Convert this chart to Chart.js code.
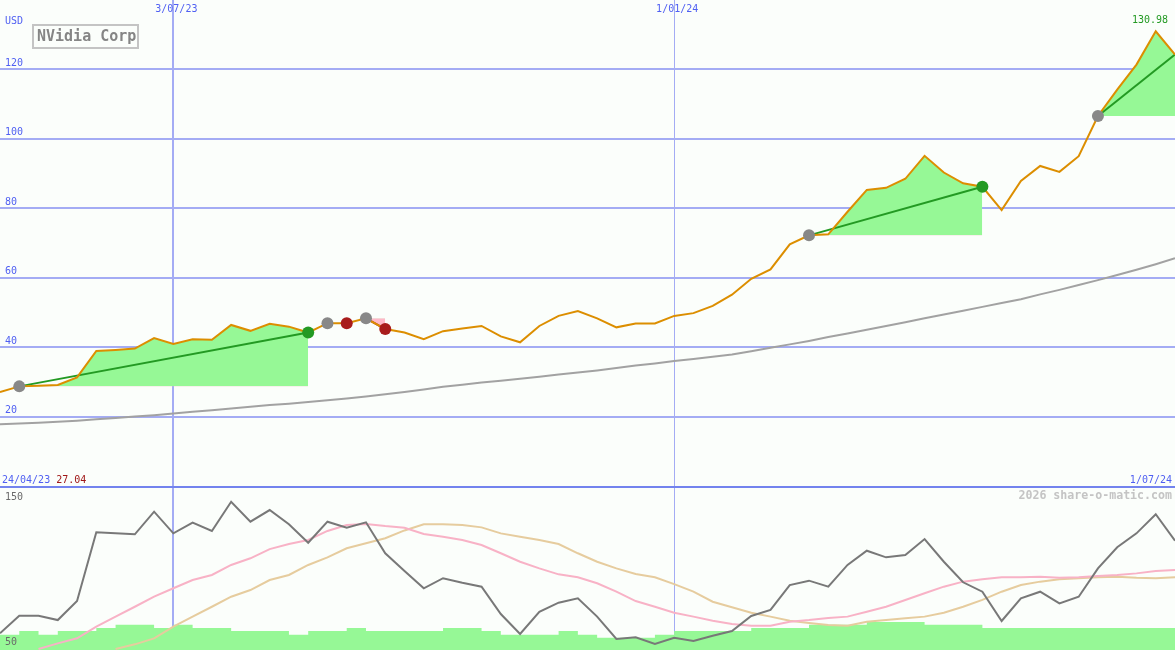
<!DOCTYPE html>
<html><head><meta charset="utf-8">
<script src="https://cdn.jsdelivr.net/npm/chart.js@4.4.1/dist/chart.umd.min.js"></script>
<style>
html,body{margin:0;padding:0;background:#fbfefb;}
#wrap{position:relative;width:1175px;height:650px;overflow:hidden;background:#fbfefb;}
#top{position:absolute;left:0;top:0;}
#sep{position:absolute;left:0;top:486px;width:1175px;height:2px;background:#7383ee;}
#bot{position:absolute;left:0;top:488px;}
</style></head><body>
<div id="wrap"><canvas id="top" width="1175" height="486"></canvas><div id="sep"></div><canvas id="bot" width="1175" height="162"></canvas></div>
<script>
// ---- data (weekly points, index 0 .. 61) ----
const company = 'NVidia Corp';
const currency = 'USD';
const startDate = '24/04/23';
const endDate = '1/07/24';
const watermark = '2026 share-o-matic.com';
const dateTickIdx = [9, 35];
const dateTickLabels = ['3/07/23', '1/01/24'];
const priceTicks = [20, 40, 60, 80, 100, 120];
const lowerTicks = [150, 50];

const price = [27.04,28.7,28.9,29.1,31.3,38.9,39.2,39.6,42.6,40.9,
42.3,42.1,46.4,44.7,46.7,45.9,44.2,46.9,46.9,48.3,
45.2,44.2,42.3,44.6,45.4,46.1,43.1,41.4,46.1,49.0,
50.4,48.3,45.7,46.8,46.8,49.0,49.8,51.9,55.1,59.7,
62.4,69.6,72.2,72.5,79.0,85.3,85.9,88.5,95.1,90.3,
87.2,86.2,79.5,87.9,92.2,90.5,95.0,106.6,114.2,121.4,
130.98,124.3];

const longMA = [17.8,18.0,18.2,18.5,18.8,19.2,19.6,20.0,20.4,20.9,
21.4,21.8,22.3,22.8,23.3,23.7,24.2,24.7,25.2,25.8,
26.4,27.1,27.8,28.6,29.2,29.8,30.3,30.9,31.5,32.1,
32.7,33.3,34.0,34.7,35.3,36.0,36.6,37.2,37.9,38.8,
39.8,40.8,41.8,42.9,43.9,45.0,46.1,47.2,48.3,49.4,
50.5,51.6,52.7,53.8,55.2,56.5,57.9,59.3,60.8,62.3,
63.9,65.6];

const regionStart = [1, 19, 42, 57];
const regionEnd = [16, 20, 51, 61];
const markerIdx = [1, 16, 17, 18, 19, 20, 42, 51, 57];
const markerKind = ['gray','green','gray','red','gray','red','gray','green','gray'];

const oscillator = [60.3,71.2,71.2,68.5,80.2,122.7,122.0,121.4,135.4,122.0,
128.6,123.5,141.5,129.2,136.4,127.6,116.2,129.2,125.5,128.8,
109.7,98.8,88.1,94.3,91.5,89.1,72.2,59.9,73.6,79.2,
81.9,70.6,56.8,57.8,53.7,57.6,55.6,58.8,61.7,71.0,
74.7,90.1,92.8,89.1,102.5,111.3,107.2,108.6,118.5,104.5,
91.8,86.0,67.9,81.9,86.0,78.8,82.9,100.4,113.4,122.0,
133.8,117.5];

const oscFast = [null,null,50.6,54.1,57.2,64.4,70.6,76.7,82.9,88.1,
93.2,96.3,102.5,106.6,112.3,115.4,117.9,123.5,127.2,127.8,
126.5,125.5,121.6,119.9,117.9,114.8,109.7,104.5,100.4,96.7,
94.9,91.2,86.0,80.2,76.7,73.0,70.6,68.1,66.0,65.0,
65.0,67.5,68.5,69.8,70.6,73.6,76.7,80.9,85.0,89.1,
92.2,93.6,94.9,94.9,95.2,94.6,94.9,95.7,96.3,97.3,
98.8,99.4];

const oscSlow = [null,null,null,null,null,null,50.6,53.5,57.2,64.4,
70.6,76.7,82.9,87.0,93.2,96.3,102.5,107.2,112.8,115.9,
119.0,123.8,127.6,127.6,127.2,125.7,122.0,119.9,117.9,115.4,
109.7,104.5,100.4,96.9,94.9,90.7,86.0,79.8,76.4,73.0,
70.6,68.1,66.7,65.4,65.0,67.5,68.5,69.6,70.6,73.0,
76.7,80.9,86.0,90.1,92.2,93.6,94.3,94.9,95.2,94.6,
94.3,94.9];

const volume = [9.4,11.7,9.4,11.7,11.7,13.6,15.6,15.6,13.6,15.6,
13.6,13.6,11.7,11.7,11.7,9.4,11.7,11.7,13.6,11.7,
11.7,11.7,11.7,13.6,13.6,11.7,9.4,9.4,9.4,11.7,
9.4,7.6,7.6,7.6,9.4,11.7,11.7,11.7,11.7,13.6,
13.6,13.6,15.6,15.6,15.6,17.3,17.3,17.3,15.6,15.6,
15.6,13.6,13.6,13.6,13.6,13.6,13.6,13.6,13.6,13.6,
13.6,13.6];

// ---- styling ----
const FONT = '"DejaVu Sans Mono", "Liberation Mono", monospace';
const GRID = '#a4acf4';
const LABEL = '#4f5ff2';
const markerColors = {gray:'#888888', red:'#a81c1c', green:'#239a23'};
const NONE = 'rgba(0,0,0,0)';
const pts = arr => arr.map((v, i) => v == null ? null : {x: i, y: v}).filter(p => p);
const lastIdx = price.length - 1;

// ---- top chart datasets ----
const topSets = [];
topSets.push({label:'signals', data: markerIdx.map(i => ({x: i, y: price[i]})), showLine:false,
  pointRadius:6, pointHoverRadius:6, pointBorderWidth:0, borderColor:NONE,
  pointBackgroundColor: markerKind.map(k => markerColors[k]), order:0});
topSets.push({label:'price', data: pts(price), borderColor:'#dc8e00', borderWidth:2, pointRadius:0, order:2});
regionStart.forEach((s, r) => {
  const e = regionEnd[r];
  const idxs = [];
  for (let i = s; i <= e; i++) idxs.push(i);
  const up = price[e] >= price[s];
  topSets.push({label:'trend', data:[{x:s, y:price[s]}, {x:e, y:price[e]}],
    borderColor: up ? '#239a23' : '#a81c1c', borderWidth:2, pointRadius:0, order:3});
  const baseIndex = topSets.length;
  topSets.push({label:'base', data: idxs.map(i => ({x:i, y:price[s]})), borderColor:NONE, borderWidth:0, pointRadius:0, order:5, fill:false});
  topSets.push({label:'segment', data: idxs.map(i => ({x:i, y:price[i]})), borderColor:NONE, borderWidth:0, pointRadius:0, order:4,
    fill:{target: baseIndex, above:'#96f896', below:'#ffb8c8'}});
});
topSets.push({label:'longMA', data: pts(longMA), borderColor:'#a2a2a2', borderWidth:2, pointRadius:0, order:6});

const xAxis = () => ({
  type:'linear', min:0, max:lastIdx, display:true,
  afterBuildTicks: sc => { sc.ticks = dateTickIdx.map(v => ({value: v})); },
  ticks:{display:false},
  grid:{drawTicks:false, color:GRID, lineWidth: c => (c.index === 0 ? 2 : 1)},
  border:{display:false}
});

const topText = {
  id:'topText',
  afterDraw(chart) {
    const {ctx, scales:{x, y}} = chart;
    const H = chart.height;
    ctx.save();
    ctx.textBaseline = 'middle';
    ctx.font = '10px ' + FONT;
    ctx.fillStyle = LABEL;
    ctx.textAlign = 'left';
    y.ticks.forEach(t => ctx.fillText(String(t.value), 5, y.getPixelForValue(t.value) - 6));
    ctx.fillText(currency, 5, 21);
    ctx.textAlign = 'center';
    dateTickIdx.forEach((d, i) => ctx.fillText(dateTickLabels[i], x.getPixelForValue(d) + 3, 9));
    ctx.textAlign = 'left';
    ctx.fillText(startDate, 2, H - 6);
    const w = ctx.measureText(startDate + ' ').width;
    ctx.fillStyle = '#a01818';
    ctx.fillText(price[0].toFixed(2), 2 + w, H - 6);
    ctx.fillStyle = LABEL;
    ctx.textAlign = 'right';
    ctx.fillText(endDate, 1172, H - 6);
    // max value label
    let mi = 0; price.forEach((v, i) => { if (v > price[mi]) mi = i; });
    const mt = price[mi].toFixed(2);
    const mw = ctx.measureText(mt).width;
    const cx = Math.min(x.getPixelForValue(mi), chart.width - 7 - mw / 2);
    ctx.textAlign = 'center';
    ctx.fillStyle = '#239a23';
    ctx.fillText(mt, cx, y.getPixelForValue(price[mi]) - 11);
    // company box
    ctx.strokeStyle = '#c4c4c4';
    ctx.lineWidth = 2;
    ctx.strokeRect(33, 25, 105, 23);
    ctx.font = 'bold 15px ' + FONT;
    ctx.fillStyle = '#858585';
    ctx.textAlign = 'left';
    ctx.fillText(company, 37, 37);
    ctx.restore();
  }
};

new Chart(document.getElementById('top'), {
  type:'line',
  data:{datasets: topSets},
  options:{
    responsive:false, animation:false, devicePixelRatio:1,
    layout:{padding:0, autoPadding:false},
    elements:{line:{tension:0}},
    plugins:{legend:{display:false}, tooltip:{enabled:false}},
    scales:{
      x: xAxis(),
      y:{type:'linear', min:0, max:140, display:true,
        afterBuildTicks: sc => { sc.ticks = priceTicks.map(v => ({value: v})); },
        ticks:{display:false},
        grid:{drawTicks:false, color:GRID, lineWidth:2},
        border:{display:false}}
    }
  },
  plugins:[topText]
});

// ---- bottom chart ----
const botText = {
  id:'botText',
  afterDraw(chart) {
    const {ctx, scales:{y}} = chart;
    ctx.save();
    ctx.textBaseline = 'middle';
    ctx.font = '10px ' + FONT;
    ctx.fillStyle = '#6a6a6a';
    ctx.textAlign = 'left';
    ctx.fillText(String(lowerTicks[0]), 5, y.getPixelForValue(lowerTicks[0]) + 9);
    ctx.fillText(String(lowerTicks[1]), 5, y.getPixelForValue(lowerTicks[1]) - 8);
    ctx.font = 'bold 11.6px ' + FONT;
    ctx.fillStyle = '#c4c4c4';
    ctx.textAlign = 'right';
    ctx.fillText(watermark, 1172, 8);
    ctx.restore();
  }
};

new Chart(document.getElementById('bot'), {
  type:'line',
  data:{datasets:[
    {label:'oscillator', data: pts(oscillator), borderColor:'#787878', borderWidth:2, pointRadius:0, order:0},
    {label:'fast', data: pts(oscFast), borderColor:'#f8b2c6', borderWidth:2, pointRadius:0, order:1},
    {label:'slow', data: pts(oscSlow), borderColor:'#e6cc9e', borderWidth:2, pointRadius:0, order:2},
    {label:'volume', data: pts(volume), yAxisID:'yv', stepped:'before', borderColor:NONE, borderWidth:0,
      pointRadius:0, backgroundColor:'#96f896', fill:'start', order:3}
  ]},
  options:{
    responsive:false, animation:false, devicePixelRatio:1,
    layout:{padding:0, autoPadding:false},
    elements:{line:{tension:0}},
    plugins:{legend:{display:false}, tooltip:{enabled:false}},
    scales:{
      x: xAxis(),
      y:{type:'linear', min:50, max:150, display:false},
      yv:{type:'linear', min:0, max:100, display:false}
    }
  },
  plugins:[botText]
});
</script>
</body></html>
